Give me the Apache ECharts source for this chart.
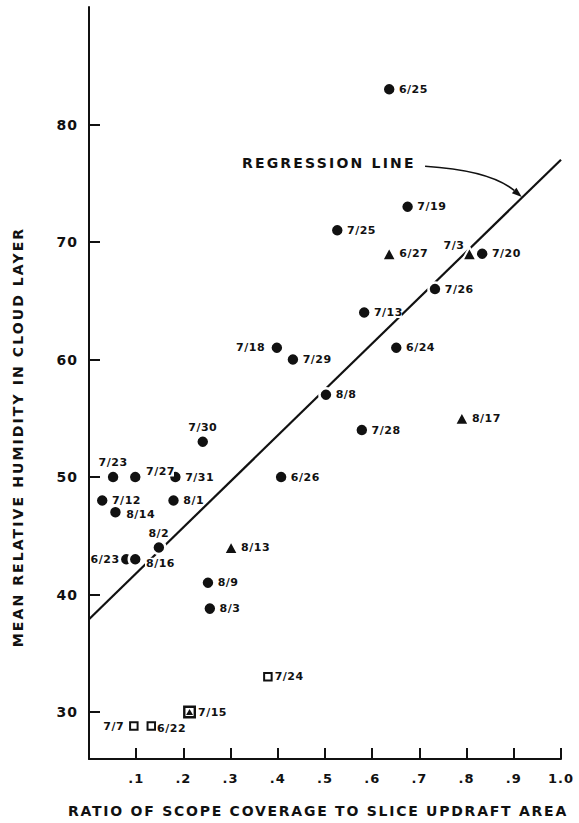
<!DOCTYPE html>
<html><head><meta charset="utf-8">
<script src="https://cdn.jsdelivr.net/npm/echarts@6/dist/echarts.min.js"></script>
<style>html,body{margin:0;padding:0;background:#fff;} #chart{width:579px;height:823px;}</style>
</head><body><div id="chart"></div>
<script>
// ---- data ----
const circleDates = ['6/25','7/19','7/25','7/20','7/26','7/13','6/24','7/18','7/29','8/8','7/28','7/30','7/23','7/27','7/31','6/26','7/12','8/1','8/14','8/2','6/23','8/16','8/9','8/3'];
const circleX = [0.636,0.675,0.526,0.833,0.733,0.583,0.651,0.398,0.432,0.502,0.578,0.241,0.051,0.098,0.183,0.407,0.028,0.179,0.056,0.148,0.079,0.098,0.252,0.256];
const circleY = [83,73,71,69,66,64,61,61,60,57,54,53,50,50,50,50,48,48,47,44,43,43,41,38.8];
const triangleDates = ['6/27','7/3','8/17','8/13'];
const triangleX = [0.636,0.806,0.790,0.301];
const triangleY = [69,69,55,44];
const squareDates = ['7/24','7/7','6/22'];
const squareX = [0.379,0.095,0.132];
const squareY = [33,28.8,28.8];
const mixedDates = ['7/15'];
const mixedX = [0.213];
const mixedY = [30];
const regressionX = [0, 1.0];
const regressionY = [37.9, 77.0];
const xTickValues = [0.1,0.2,0.3,0.4,0.5,0.6,0.7,0.8,0.9,1.0];
const xTickLabels = ['.1','.2','.3','.4','.5','.6','.7','.8','.9','1.0'];
const yTickValues = [30,40,50,60,70,80];
const yTickLabels = ['30','40','50','60','70','80'];
const X_TITLE = 'RATIO OF SCOPE COVERAGE TO SLICE UPDRAFT AREA';
const Y_TITLE = 'MEAN RELATIVE HUMIDITY IN CLOUD LAYER';
const ANNOT = 'REGRESSION LINE';

// ---- styles ----
const INK = '#111';
const FONT = '"DejaVu Sans", sans-serif';
const labelPlacement = {
  '7/23': {position:'top', distance:1},
  '7/27': {position:'right', distance:2, offset:[0,-6]},
  '7/30': {position:'top', distance:1},
  '8/2':  {position:'top', distance:1},
  '6/23': {position:'left', distance:0, offset:[2,0], backgroundColor:'transparent'},
  '8/16': {position:'right', distance:2, offset:[0,4]},
  '7/18': {position:'left', distance:3},
  '7/3':  {position:'left', distance:0, offset:[4,-8]},
  '7/7':  {position:'left', distance:4},
  '6/22': {position:'right', distance:0, offset:[0,2]},
  '8/14': {position:'right', distance:2, offset:[0,2]}
};
const baseLabel = {show:true, position:'right', distance:1, formatter:'{b}', fontSize:11, fontWeight:'bold',
  fontFamily:FONT, color:INK, backgroundColor:'#fff', padding:[0,1]};

function items(names, xs, ys) {
  return names.map((n,i) => ({name:n, value:[xs[i], ys[i]], label:Object.assign({}, labelPlacement[n] || {})}));
}
function pickLabel(arr, v){ return arr.findIndex(t => Math.abs(t - v) < 1e-9); }

const chart = echarts.init(document.getElementById('chart'), null, {renderer:'svg'});
const option = {
  animation:false,
  backgroundColor:'#fff',
  grid:{left:89, right:18, top:7, bottom:64, containLabel:false, outerBoundsMode:'none'},
  xAxis:{
    type:'value', min:0, max:1,
    axisLine:{show:true, onZero:false, lineStyle:{color:INK, width:2}},
    axisTick:{show:true, inside:true, length:11, customValues:xTickValues, lineStyle:{color:INK, width:2}},
    axisLabel:{show:true, customValues:xTickValues, margin:13, fontSize:13, fontWeight:'bold', fontFamily:FONT, color:INK,
      formatter:(v)=>{ const i = pickLabel(xTickValues, v); return i>=0 ? xTickLabels[i] : ''; }},
    splitLine:{show:false}
  },
  yAxis:{
    type:'value', min:26, max:90,
    axisLine:{show:true, onZero:false, lineStyle:{color:INK, width:2}},
    axisTick:{show:true, inside:true, length:11, customValues:yTickValues, lineStyle:{color:INK, width:2}},
    axisLabel:{show:true, customValues:yTickValues, margin:11, fontSize:14, fontWeight:'bold', fontFamily:FONT, color:INK,
      formatter:(v)=>{ const i = pickLabel(yTickValues, v); return i>=0 ? yTickLabels[i] : ''; }},
    splitLine:{show:false}
  },
  series:[
    {type:'line', name:'regression', z:1, silent:true, showSymbol:false, symbol:'none',
      data:regressionX.map((x,i)=>[x, regressionY[i]]), lineStyle:{color:INK, width:2.2}},
    {type:'scatter', name:'circles', z:3, symbol:'circle', symbolSize:13,
      itemStyle:{color:INK, borderColor:'#fff', borderWidth:2.5, opacity:1},
      label:baseLabel, data:items(circleDates, circleX, circleY)},
    {type:'scatter', name:'triangles', z:3, symbol:'triangle', symbolSize:[14,13],
      itemStyle:{color:INK, borderColor:'#fff', borderWidth:2, opacity:1},
      label:baseLabel, data:items(triangleDates, triangleX, triangleY)},
    {type:'scatter', name:'squares', z:3, symbol:'rect', symbolSize:7.5,
      itemStyle:{color:'#fff', borderColor:INK, borderWidth:2, opacity:1},
      label:baseLabel, data:items(squareDates, squareX, squareY)},
    {type:'scatter', name:'mixedSquare', z:3, symbol:'rect', symbolSize:10.5,
      itemStyle:{color:'#fff', borderColor:INK, borderWidth:2.4, opacity:1},
      label:baseLabel, data:items(mixedDates, mixedX, mixedY)},
    {type:'scatter', name:'mixedTriangle', z:4, symbol:'triangle', symbolSize:[7,6],
      itemStyle:{color:INK, opacity:1}, label:{show:false},
      data:mixedX.map((x,i)=>[x, mixedY[i]])}
  ]
};
chart.setOption(option);

// annotation ("REGRESSION LINE" + curved arrow), anchored in data space
const P = (x,y) => chart.convertToPixel({gridIndex:0}, [x,y]);
const tPos = P(0.324, 76.7);
const a0 = P(0.712, 76.45), ac = P(0.850, 76.1), a1 = P(0.917, 73.84);
const dx = a1[0]-ac[0], dy = a1[1]-ac[1], dl = Math.hypot(dx,dy);
const ux = dx/dl, uy = dy/dl, hl = 10, hw = 3.5;
const base = [a1[0]-ux*hl, a1[1]-uy*hl];
chart.setOption({graphic:[
  {type:'text', x:tPos[0], y:tPos[1], style:{text:ANNOT, font:'bold 14px '+FONT, fill:INK, textAlign:'left', textVerticalAlign:'middle'}},
  {type:'bezierCurve', shape:{x1:a0[0], y1:a0[1], cpx1:ac[0], cpy1:ac[1], x2:base[0], y2:base[1]}, style:{stroke:INK, lineWidth:1.6, fill:null}},
  {type:'polygon', shape:{points:[a1, [base[0]-uy*hw, base[1]+ux*hw], [base[0]+uy*hw, base[1]-ux*hw]]}, style:{fill:INK}},
  {type:'text', x:68, y:811, style:{text:X_TITLE, font:'bold 14px '+FONT, fill:INK, textAlign:'left', textVerticalAlign:'middle'}},
  {type:'text', x:18, y:437, rotation:Math.PI/2, style:{text:Y_TITLE, font:'bold 14px '+FONT, fill:INK, textAlign:'center', textVerticalAlign:'middle'}}
]});

// letter spacing to mimic the drafted lettering
function spacingFor(t){
  if (t === X_TITLE) return '1.75px';
  if (t === Y_TITLE) return '2.1px';
  if (t === ANNOT) return '2.2px';
  if (xTickLabels.includes(t) || yTickLabels.includes(t)) return '1px';
  return '0.5px';
}
function applySpacing(){
  document.querySelectorAll('#chart text').forEach(el => {
    const s = spacingFor(el.textContent);
    if (el.style.letterSpacing !== s) el.style.letterSpacing = s;
  });
}
applySpacing();
chart.on('finished', applySpacing);
new MutationObserver(applySpacing).observe(document.getElementById('chart'), {childList:true, subtree:true});
setTimeout(applySpacing, 50);
</script>
</body></html>
